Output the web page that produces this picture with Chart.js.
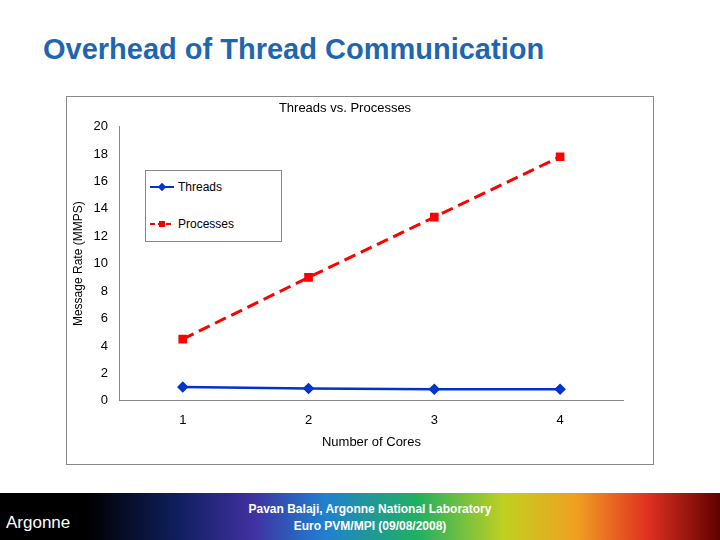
<!DOCTYPE html>
<html><head><meta charset="utf-8">
<script src="https://cdn.jsdelivr.net/npm/chart.js@4"></script>
<style>
body{margin:0;width:720px;height:540px;background:#fff;font-family:Arial,"Liberation Sans",sans-serif;position:relative;overflow:hidden}
#title{position:absolute;left:43px;top:33px;font-size:29px;font-weight:bold;color:#1f66b0}
#box{position:absolute;left:66px;top:96px;width:586px;height:367px;border:1px solid #888}
#legend{position:absolute;left:145px;top:170px;width:135px;height:70px;border:1px solid #888;background:#fff;font-size:12px}
.li{position:absolute;left:4px;display:flex;align-items:center}
.li span{margin-left:4px}
#footer{position:absolute;left:0;top:493px;width:720px;height:47px;background:linear-gradient(90deg,#000 0%,#000 12%,#102060 25%,#4030a0 35%,#2080d0 45%,#20b060 58%,#c0d020 70%,#f0a020 80%,#e03020 90%,#600000 100%)}
#ftext{position:absolute;left:230px;top:8px;width:280px;text-align:center;color:#fff;font-size:12px;font-weight:bold;line-height:17px}
#logo{position:absolute;left:6px;top:20px;color:#fff;font-size:17px}
</style></head><body>
<div id="title">Overhead of Thread Communication</div>
<div id="box"><canvas id="c" width="586" height="367"></canvas></div>
<div id="legend">
 <div class="li" style="top:9px"><svg width="24" height="8"><line x1="0" y1="4" x2="24" y2="4" stroke="#0033cc" stroke-width="2"/><rect x="9" y="1" width="6" height="6" fill="#0033cc" transform="rotate(45 12 4)"/></svg><span>Threads</span></div>
 <div class="li" style="top:46px"><svg width="24" height="8"><line x1="0" y1="4" x2="24" y2="4" stroke="#ff0000" stroke-width="2" stroke-dasharray="5,3"/><rect x="9" y="1" width="6" height="6" fill="#ff0000"/></svg><span>Processes</span></div>
</div>
<div id="footer"><div id="logo">Argonne</div><div id="ftext">Pavan Balaji, Argonne National Laboratory<br>Euro PVM/MPI (09/08/2008)</div></div>
<script>
const cores = ['1', '2', '3', '4'];
const threads = [1.0, 0.9, 0.85, 0.85];
const processes = [4.5, 9.0, 13.4, 17.8];

new Chart(document.getElementById('c'), {
    type: 'line',
    data: {
        labels: cores,
        datasets: [{
            label: 'Threads',
            data: threads,
            borderColor: '#0033cc',
            backgroundColor: '#0033cc',
            borderWidth: 2.5,
            pointStyle: 'rectRot',
            pointRadius: 4
        }, {
            label: 'Processes',
            data: processes,
            borderColor: '#ff0000',
            backgroundColor: '#ff0000',
            borderWidth: 3,
            borderDash: [12, 6],
            pointStyle: 'rect',
            pointRadius: 4
        }]
    },
    options: {
        responsive: false,
        animation: false,
        layout: {padding: {right: 30, left: 0, bottom: 10}},
        plugins: {
            legend: {display: false},
            title: {display: true, text: 'Threads vs. Processes', color: '#000', font: {size: 13, weight: 'normal'}, padding: {top: 4, bottom: 10}}
        },
        scales: {
            x: {
                offset: true,
                grid: {display: false},
                border: {color: '#888'},
                ticks: {color: '#000', font: {size: 13}, padding: 4},
                title: {display: true, text: 'Number of Cores', color: '#000', font: {size: 13}, padding: {top: 2}}
            },
            y: {
                min: 0, max: 20,
                grid: {display: false},
                border: {color: '#888'},
                ticks: {stepSize: 2, color: '#000', font: {size: 13}, padding: 4},
                title: {display: true, text: 'Message Rate (MMPS)', color: '#000', font: {size: 12}}
            }
        }
    }
});
</script>
</body></html>
